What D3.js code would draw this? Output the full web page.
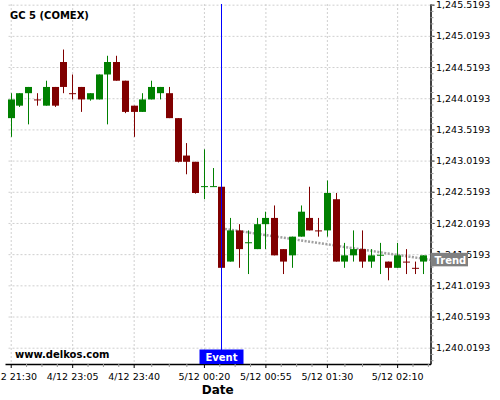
<!DOCTYPE html>
<html>
<head>
<meta charset="utf-8">
<script src="https://cdn.jsdelivr.net/npm/d3@7"></script>
<style type="text/css">
	body {
		margin: 0;
		background-color: #fff;
	}
	svg {
		display: block;
		font-family: "DejaVu Sans", sans-serif;
	}
	.grid line {
		stroke: #cfcfcf;
		stroke-dasharray: 2,2;
	}
	.grid path {
		display: none;
	}
</style>
</head>
<body>
<div id="chart"></div>
<script>

// candles, one every 5 minutes (index on the x axis)
var opens  = [1243.7, 1243.9, 1244.1, 1244.0, 1243.9, 1244.2, 1244.6, 1244.1, 1244.2, 1244.0,
              1244.0, 1244.4, 1244.6, 1244.3, 1243.9, 1243.8, 1244.0, 1244.1, 1244.1, 1243.7,
              1243.1, 1243.0, 1242.6, 1242.6, 1242.6, 1241.4, 1241.9, 1241.7, 1241.6, 1242.0,
              1242.1, 1241.6, 1241.5, 1241.8, 1242.1, 1241.9, 1241.9, 1242.4, 1241.4, 1241.5,
              1241.6, 1241.4, 1241.5, 1241.4, 1241.3, 1241.4, 1241.3, 1241.4];
var highs  = [1244.1, 1244.1, 1244.2, 1244.1, 1244.3, 1244.2, 1244.8, 1244.4, 1244.2, 1244.1,
              1244.4, 1244.7, 1244.7, 1244.3, 1243.9, 1244.1, 1244.3, 1244.2, 1244.2, 1243.7,
              1243.3, 1243.0, 1243.2, 1242.9, 1242.6, 1242.1, 1242.0, 1241.9, 1242.1, 1242.2,
              1242.3, 1241.6, 1241.8, 1242.3, 1242.6, 1242.1, 1242.7, 1242.5, 1241.7, 1241.9,
              1241.9, 1241.6, 1241.7, 1241.4, 1241.7, 1241.6, 1241.4, 1241.5];
var lows   = [1243.4, 1243.88, 1243.6, 1243.9, 1243.9, 1243.88, 1244.1, 1244.0, 1243.8, 1243.98,
              1244.0, 1243.6, 1244.3, 1243.78, 1243.4, 1243.8, 1244.0, 1244.0, 1243.7, 1242.99,
              1242.8, 1242.49, 1242.4, 1242.6, 1241.3, 1241.4, 1241.3, 1241.2, 1241.6, 1241.6,
              1241.5, 1241.2, 1241.3, 1241.8, 1241.9, 1241.8, 1241.8, 1241.4, 1241.3, 1241.4,
              1241.3, 1241.3, 1241.2, 1241.1, 1241.3, 1241.2, 1241.2, 1241.2];
var closes = [1244.0, 1244.1, 1244.2, 1243.99, 1244.2, 1243.9, 1244.2, 1244.09, 1244.0, 1244.1,
              1244.4, 1244.6, 1244.3, 1243.8, 1243.8, 1244.0, 1244.2, 1244.2, 1243.7, 1243.0,
              1243.0, 1242.5, 1242.61, 1242.61, 1241.3, 1241.9, 1241.6, 1241.71, 1242.0, 1242.1,
              1241.5, 1241.4, 1241.8, 1242.2, 1241.9, 1241.89, 1242.5, 1241.4, 1241.5, 1241.6,
              1241.4, 1241.5, 1241.51, 1241.3, 1241.5, 1241.39, 1241.29, 1241.5];

var xTickIdx    = [0, 7, 14, 22, 29, 36, 44];
var xTickLabels = ["4/12 21:30", "4/12 23:05", "4/12 23:40", "5/12 00:20", "5/12 00:55", "5/12 01:30", "5/12 02:10"];
var xMinorIdx   = [1.75, 3.5, 5.25, 8.75, 10.5, 12.25, 16, 18, 20, 23.75, 25.5, 27.25,
                   30.75, 32.5, 34.25, 38, 40, 42, 45.75, 47.5];
var yTicks      = [1240.0193, 1240.5193, 1241.0193, 1241.5193, 1242.0193, 1242.5193,
                   1243.0193, 1243.5193, 1244.0193, 1244.5193, 1245.0193, 1245.5193];

var eventIdx   = 24;
var trendIdx   = [24.4, 47.8];
var trendVal   = [1241.923, 1241.428];

var W = 500, H = 400;
var pLeft = 5, pRight = 430.5, pTop = 4, pBottom = 364;

var svg = d3.select("#chart").append("svg")
	.attr("width", W)
	.attr("height", H);

var x = d3.scaleLinear().domain([-0.65, 47.8]).range([pLeft, pRight]);
var y = d3.scaleLinear().domain([1239.758, 1245.53]).range([pBottom, pTop]);

// grid
svg.append("g")
	.attr("class", "grid")
	.attr("transform", "translate(" + pRight + ",0)")
	.call(d3.axisLeft(y).tickValues(yTicks).tickSize(pRight - pLeft - 1.5).tickFormat(""));
svg.append("g")
	.attr("class", "grid")
	.attr("transform", "translate(0," + pTop + ")")
	.call(d3.axisBottom(x).tickValues(xTickIdx).tickSize(pBottom - pTop).tickFormat(""));

svg.append("defs").append("clipPath").attr("id", "plot")
	.append("rect").attr("x", pLeft).attr("y", pTop).attr("width", pRight - pLeft).attr("height", pBottom - pTop);

// trend (behind the candles)
svg.append("line")
	.attr("clip-path", "url(#plot)")
	.attr("x1", x(trendIdx[0])).attr("y1", y(trendVal[0]))
	.attr("x2", x(trendIdx[1])).attr("y2", y(trendVal[1]))
	.attr("stroke", "#a0a0a0")
	.attr("stroke-width", 2.5)
	.attr("stroke-dasharray", "2,1.5");

// candles
var candles = svg.append("g");
for (var i = 0; i < opens.length; i++) {
	var cx = Math.round(x(i));
	var col = closes[i] >= opens[i] ? "#008000" : "#800000";
	candles.append("line")
		.attr("x1", cx + 0.5).attr("x2", cx + 0.5)
		.attr("y1", y(highs[i])).attr("y2", y(lows[i]))
		.attr("stroke", col)
		.attr("stroke-width", 1);
	var y0 = y(Math.max(opens[i], closes[i]));
	var y1 = y(Math.min(opens[i], closes[i]));
	candles.append("rect")
		.attr("x", cx - 3)
		.attr("y", y0)
		.attr("width", 7)
		.attr("height", Math.max(1, y1 - y0))
		.attr("fill", col);
}

// event line
var ex = Math.round(x(eventIdx)) + 0.5;
svg.append("line")
	.attr("x1", ex).attr("x2", ex)
	.attr("y1", pTop).attr("y2", pBottom)
	.attr("stroke", "#0000ff")
	.attr("stroke-width", 1);

// axes
var fmt = d3.format(",.4f");
var yAxis = svg.append("g")
	.attr("transform", "translate(" + pRight + ",0)")
	.call(d3.axisRight(y).tickValues(yTicks).tickFormat(fmt).tickSize(4).tickSizeOuter(0).tickPadding(1.5));
var yMinor = svg.append("g")
	.attr("transform", "translate(" + pRight + ",0)")
	.call(d3.axisRight(y).tickValues(d3.range(1239.8193, 1245.53, 0.1)).tickFormat("").tickSize(3).tickSizeOuter(0));
yMinor.select(".domain").remove();
yMinor.selectAll("line").attr("stroke", "#999");

var xAxis = svg.append("g")
	.attr("transform", "translate(0," + pBottom + ")")
	.call(d3.axisBottom(x).tickValues(xTickIdx).tickFormat(function (d, i) { return xTickLabels[i]; })
		.tickSize(4).tickSizeOuter(0).tickPadding(5));
var xMinor = svg.append("g")
	.attr("transform", "translate(0," + pBottom + ")")
	.call(d3.axisBottom(x).tickValues(xMinorIdx).tickFormat("").tickSize(3).tickSizeOuter(0));
xMinor.select(".domain").remove();
xMinor.selectAll("line").attr("stroke", "#999");

[yAxis, xAxis].forEach(function (a) {
	a.attr("font-family", "DejaVu Sans, sans-serif").attr("font-size", 9.5);
	a.select(".domain").attr("stroke-width", 1.5);
	a.selectAll("text").attr("fill", "#000");
});

// labels
svg.append("text")
	.attr("x", 10).attr("y", 19)
	.attr("font-size", 10).attr("font-weight", "bold")
	.text("GC 5 (COMEX)");

svg.append("text")
	.attr("x", 15).attr("y", 357.5)
	.attr("font-size", 10).attr("font-weight", "bold")
	.text("www.delkos.com");

svg.append("text")
	.attr("x", (pLeft + pRight) / 2).attr("y", 394)
	.attr("text-anchor", "middle")
	.attr("font-size", 12).attr("font-weight", "bold")
	.text("Date");

svg.append("rect")
	.attr("x", ex - 22).attr("y", pBottom - 14.5)
	.attr("width", 44).attr("height", 14.5)
	.attr("fill", "#0000ff");
svg.append("text")
	.attr("x", ex).attr("y", pBottom - 3.3)
	.attr("text-anchor", "middle")
	.attr("font-size", 10).attr("font-weight", "bold")
	.attr("fill", "#fff")
	.text("Event");

var ty = y(trendVal[1]);
svg.append("rect")
	.attr("x", pRight).attr("y", ty - 7)
	.attr("width", 37.5).attr("height", 13.5)
	.attr("fill", "#808080");
svg.append("text")
	.attr("x", pRight + 4).attr("y", ty + 4)
	.attr("font-size", 10).attr("font-weight", "bold")
	.attr("fill", "#fff")
	.text("Trend");

</script>
</body>
</html>
